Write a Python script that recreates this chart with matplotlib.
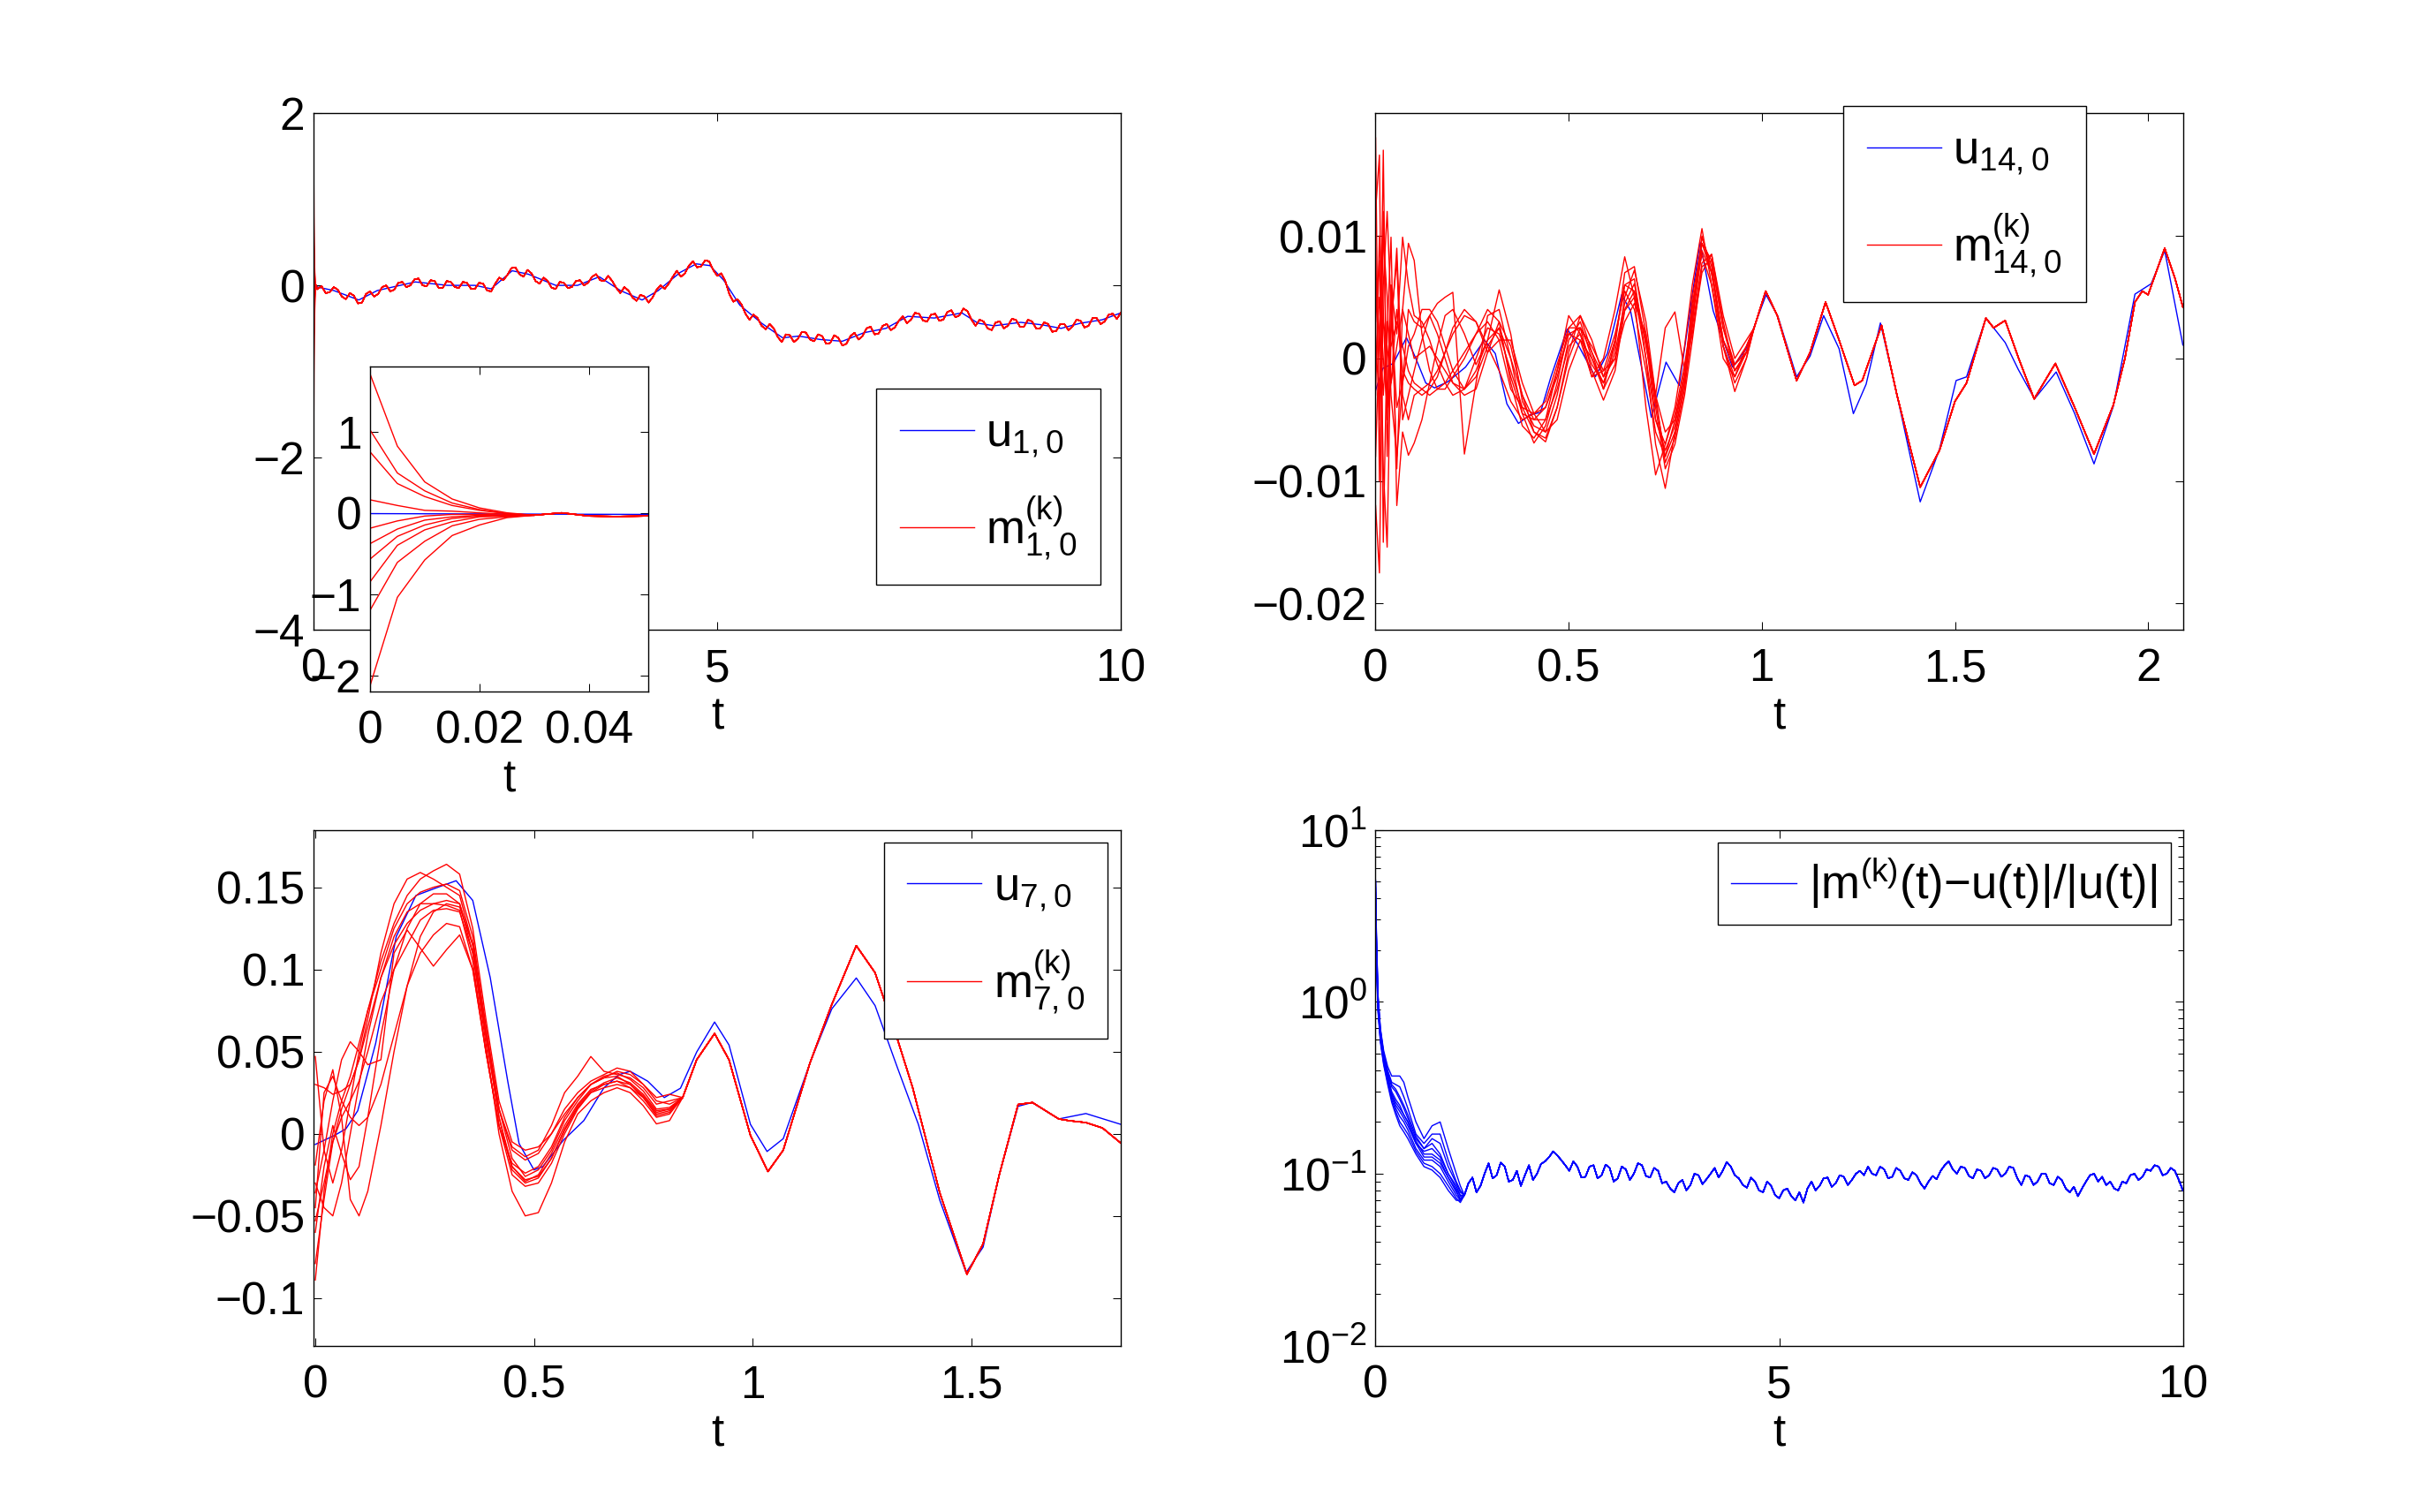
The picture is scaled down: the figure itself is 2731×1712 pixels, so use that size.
import numpy as np
import matplotlib
matplotlib.use('Agg')
import matplotlib.pyplot as plt

plt.rcParams['font.family'] = ['Liberation Sans', 'DejaVu Sans']
plt.rcParams['mathtext.default'] = 'regular'
plt.rcParams['axes.unicode_minus'] = True

# ---------------- data: u_{1,0} / m_{1,0} (top left + inset) ----------------
t_u1 = [0, 0.25, 0.56, 0.79, 1.26, 1.66, 2.0, 2.2, 2.46, 2.66, 3.0, 3.27, 3.54, 3.8,
        4.07, 4.27, 4.54, 4.74, 4.91, 5.08, 5.28, 5.55, 5.81, 6.01, 6.28, 6.55, 6.82,
        7.09, 7.36, 7.69, 8.03, 8.23, 8.43, 8.76, 9.03, 9.26, 9.5, 9.77, 10.0]
u1 = [-0.01, -0.06, -0.17, -0.06, 0.04, 0.0, 0.0, -0.04, 0.17, 0.13, 0.0, 0.0, 0.1, -0.06,
      -0.17, -0.06, 0.15, 0.25, 0.23, 0.06, -0.23, -0.44, -0.61, -0.59, -0.63, -0.65, -0.55,
      -0.5, -0.36, -0.38, -0.32, -0.44, -0.47, -0.43, -0.46, -0.5, -0.44, -0.4, -0.32]

# initial transients of the 10 ensemble members
t_m1_trans = [0, 0.005, 0.01, 0.015, 0.02, 0.025]
m1_trans = [[1.71, 0.82, 0.38, 0.17, 0.06, 0.0],
            [1.02, 0.49, 0.27, 0.12, 0.04, -0.01],
            [0.75, 0.36, 0.2, 0.09, 0.03, -0.01],
            [0.16, 0.09, 0.03, 0.02, 0.0, -0.02],
            [-0.19, -0.1, -0.04, -0.02, -0.02, -0.03],
            [-0.38, -0.2, -0.09, -0.05, -0.03, -0.03],
            [-0.57, -0.29, -0.15, -0.07, -0.04, -0.04],
            [-0.85, -0.4, -0.21, -0.11, -0.05, -0.04],
            [-1.2, -0.61, -0.35, -0.16, -0.08, -0.05],
            [-2.13, -1.04, -0.58, -0.28, -0.15, -0.06]]
t_m1_conv = [0.03, 0.035, 0.04, 0.045, 0.05]
m1_conv = [-0.03, 0.0, -0.04, -0.045, -0.04]
t_m1_tail = np.linspace(0.1, 10.0, 199)
m1_tail = [-0.01, -0.09, -0.08, -0.02, -0.05, -0.13, -0.16, -0.09, -0.12, -0.21,
           -0.2, -0.1, -0.07, -0.13, -0.1, -0.02, 0.0, -0.07, -0.05, 0.03,
           0.04, -0.02, 0.0, 0.07, 0.08, 0.0, -0.01, 0.06, 0.05, -0.03,
           -0.03, 0.05, 0.04, -0.02, -0.03, 0.04, 0.03, -0.04, -0.04, 0.03,
           0.02, -0.06, -0.07, 0.02, 0.09, 0.06, 0.12, 0.2, 0.21, 0.13,
           0.1, 0.18, 0.14, 0.05, 0.02, 0.09, 0.05, -0.03, -0.04, 0.04,
           0.03, -0.03, -0.02, 0.05, 0.06, 0.0, 0.03, 0.1, 0.13, 0.06,
           0.05, 0.11, 0.05, -0.03, -0.09, -0.02, -0.06, -0.14, -0.18, -0.11,
           -0.13, -0.2, -0.14, -0.05, 0.0, -0.04, 0.02, 0.1, 0.17, 0.1,
           0.14, 0.23, 0.28, 0.21, 0.22, 0.29, 0.28, 0.18, 0.11, 0.14,
           0.05, -0.1, -0.19, -0.16, -0.22, -0.33, -0.4, -0.34, -0.38, -0.47,
           -0.51, -0.45, -0.5, -0.6, -0.66, -0.57, -0.58, -0.66, -0.62, -0.54,
           -0.55, -0.63, -0.65, -0.57, -0.59, -0.68, -0.67, -0.58, -0.61, -0.7,
           -0.68, -0.59, -0.55, -0.63, -0.59, -0.5, -0.48, -0.57, -0.56, -0.47,
           -0.45, -0.52, -0.49, -0.41, -0.36, -0.44, -0.4, -0.32, -0.33, -0.41,
           -0.42, -0.34, -0.33, -0.41, -0.4, -0.31, -0.29, -0.37, -0.35, -0.27,
           -0.3, -0.4, -0.47, -0.4, -0.42, -0.5, -0.52, -0.43, -0.42, -0.5,
           -0.47, -0.39, -0.4, -0.48, -0.48, -0.4, -0.42, -0.5, -0.5, -0.43,
           -0.45, -0.54, -0.53, -0.45, -0.45, -0.52, -0.48, -0.4, -0.41, -0.49,
           -0.47, -0.38, -0.38, -0.45, -0.42, -0.34, -0.33, -0.39, -0.32]

# ---------------- data: u_{14,0} / m_{14,0} (top right), units 1e-3 ----------------
t_u14 = [0, 0.019, 0.046, 0.08, 0.103, 0.13, 0.153, 0.187, 0.233, 0.282, 0.31, 0.34, 0.37,
         0.4, 0.427, 0.454, 0.496, 0.523, 0.569, 0.6, 0.637, 0.66, 0.714, 0.752, 0.786, 0.84,
         0.874, 0.924, 0.958, 1.011, 1.042, 1.09, 1.125, 1.16, 1.2, 1.237, 1.27, 1.307, 1.35,
         1.41, 1.46, 1.503, 1.53, 1.58, 1.63, 1.664, 1.706, 1.762, 1.81, 1.86, 1.91, 1.966,
         2.008, 2.043, 2.09]
u14 = [-2.6, -0.8, -0.4, 1.7, 0.1, -2.0, -2.4, -1.9, -0.7, 1.5, 0.4, -3.7, -5.3,
       -4.6, -4.4, -1.5, 2.4, 1.2, -1.5, 0.4, 5.2, 3.9, -4.8, -0.3, -2.2, 9.5,
       3.9, -0.7, 0.7, 5.2, 3.4, -1.5, 0.2, 3.5, 0.8, -4.5, -2.1, 2.9, -3.0,
       -11.7, -7.4, -1.8, -1.5, 3.3, 1.3, -0.9, -3.3, -1.1, -4.5, -8.6, -3.9, 5.25,
       6.1, 8.8, 1.1]

t_m14_early = [0, 0.01, 0.02, 0.03, 0.04, 0.055, 0.07, 0.085,
               0.1, 0.12, 0.14, 0.16, 0.18, 0.2, 0.23, 0.26, 0.29, 0.32, 0.35, 0.38, 0.41,
               0.44, 0.47, 0.5, 0.53, 0.56, 0.59, 0.62, 0.645, 0.67, 0.7, 0.725, 0.75,
               0.775, 0.8, 0.82, 0.845, 0.87, 0.9, 0.93, 0.96]
m14_early = [
    [18, -10, 12, -4, 6, -9, 4, 9.4,
     8, 2, -1, -2.5, -2.5, -1.5, 0, 2, 4, 3, -2, -5.5, -6.5, -5, -1, 3.5, 2, -1.5, 0, 4,
     8.3, 5, -4, -9.5, -7, -4, 1, 6, 10.6, 6, 0, -1.5, 1],
    [12, 16.6, -15, 2, 9.9, -12, -6, -7.9,
     -6.9, -5, -2, 1, 3.5, 4, 2, -0.5, 1.5, 5.6, 2, -3.5, -5.5, -6, -3, 1.5, 3, 0, -2.5, 1.5,
     6, 6.5, 0, -7, -10.6, -6, -2, 4, 9.9, 7.5, 1.5, -1, 0.5],
    [9, -5, 17, -8, 3, 8, -5, -3,
     -1, 1.5, 3.5, 4.5, 5, 5.4, -7.8, -2, 3.5, 4, 0, -4.5, -6.9, -5.5, -2, 2.5, 2.5, -1, -3.4, -1,
     3.9, 5, 1.5, -5, -7.5, -5.5, -1.5, 5, 9.4, 8, 2.5, -0.5, 1],
    [3, 8, -9, -15.4, 2, 9, -3, -5,
     -3, -2.5, -2, -1, 0.5, 2, 3.5, 3, 1, -1, -3.5, -5, -4.5, -3.5, -0.5, 2.5, 3.5, 1.5, -1.5, 0,
     3, 4.5, 2, -3, -6, -5, -1, 3, 8.8, 7, 1, -2, 0],
    [-3, 10, 4, -5, 6, 2, 9.9, 6,
     3.5, 3, 1.5, -0.5, -2, -3, -2.5, 0, 2.5, 2, -1, -4, -6, -6.5, -4, 0.5, 3.5, 0.5, -2.5, -0.5,
     5, 7.2, 3, -3, -8.5, -6.5, -2.5, 2.5, 7.8, 8.5, 3, -1, 0.5],
    [-8, 2, 10, 5, -3, -8, -2, 4,
     3, 2.5, 3.5, 2, 0, -2, -3, -2.5, 0.5, 3, 1, -3, -5, -5, -2.5, 1, 2, -0.5, -2, 0.5,
     4.5, 6.1, 1, -3, 2.5, 3.8, -1, 2, 7, 8.5, 3.5, 0, 1.5],
    [-12, -17.5, 6, 12, 4, -4, -2, 1,
     2, 4, 4, 3, 1, -1, -2.5, -1, 1.5, 2.5, -1.5, -4.5, -5, -4, -1.5, 2, 1.5, -1.5, -1, 2,
     5.5, 4, -1, -6, -8, -5, -1.5, 4.5, 8.5, 6, 1, -1.5, 0.5],
    [6, 2, -3, 3, 1, 3, 1, -1,
     -2, -2.5, -3, -2.5, -2, -1, 0.5, 2, 3, 1.5, -2.5, -4, -4.5, -4, -1, 2, 2.5, 0.5, -1.5, 1.5,
     6, 5.5, 0, -5, -7, -4.5, -0.5, 3.5, 9.4, 7, 1.5, -0.5, 0.5],
    [-1, 5, 0, -4, -2, 1, 4, 2,
     0, 0.5, 1, 0, -1, -2, -2.5, -1.5, 1, 2.5, 0, -3, -6, -6.8, -4, 0, 2.5, 1, -1, 0,
     4, 5.5, 1.5, -4, -9, -7, -3, 1.5, 7.5, 8, 2.5, -1, 0.5],
    [1, -3, 3, 1, -2, 4, -1, -2,
     -2.5, -3, -2.5, -1.5, 0.5, 2.5, 4, 3, 0.5, 1.5, 1.5, -2, -4.5, -6, -5, -1, 1.5, 0, -2, 1,
     7, 7.5, 2, -3.5, -8, -6, -2, 3, 10, 7, 1, -2.7, 0],
]
t_m14_tail = [0.98, 1.01, 1.04, 1.09, 1.125, 1.165, 1.2, 1.24, 1.26, 1.31, 1.35, 1.41, 1.46,
              1.5, 1.53, 1.58, 1.6, 1.63, 1.665, 1.705, 1.76, 1.81, 1.86, 1.91, 1.94, 1.966,
              1.985, 2.0, 2.043, 2.07, 2.09]
m14_tail = [2.5, 5.5, 3.5, -1.8, 0.5, 4.6, 1.5, -2.2, -1.8, 2.7, -3.0, -10.5, -7.5,
            -3.5, -2.0, 3.3, 2.5, 3.1, 0.0, -3.3, -0.4, -4.0, -7.8, -3.8, 0.0, 4.6,
            5.5, 5.2, 9.0, 6.5, 4.2]

# ---------------- data: u_{7,0} / m_{7,0} (bottom left) ----------------
t_u7 = [0, 0.044, 0.07, 0.097, 0.138, 0.185, 0.23, 0.28, 0.322, 0.36, 0.4, 0.44, 0.466, 0.5,
        0.52, 0.567, 0.614, 0.66, 0.695, 0.72, 0.76, 0.798, 0.835, 0.872, 0.913, 0.946, 0.995,
        1.033, 1.07, 1.131, 1.181, 1.237, 1.28, 1.33, 1.379, 1.428, 1.488, 1.527, 1.564, 1.607,
        1.639, 1.7, 1.762, 1.842]
u7 = [-0.0065, -0.001, 0.003, 0.014, 0.055, 0.12, 0.145, 0.15, 0.154, 0.142, 0.095, 0.032,
      -0.006, -0.022, -0.02, -0.004, 0.008, 0.028, 0.036, 0.038, 0.032, 0.022, 0.0277, 0.0497,
      0.068, 0.054, 0.0057, -0.0108, -0.003, 0.043, 0.076, 0.0948, 0.078, 0.041, 0.0057,
      -0.0405, -0.0845, -0.069, -0.025, 0.0167, 0.019, 0.009, 0.0123, 0.0057]

t_m7_early = [0, 0.02, 0.04, 0.06, 0.08, 0.1, 0.12, 0.15, 0.18, 0.21, 0.24, 0.27, 0.3, 0.33,
              0.36, 0.39, 0.42, 0.45, 0.48, 0.51, 0.54, 0.57, 0.6, 0.63, 0.66, 0.69, 0.72,
              0.75, 0.78, 0.81]
m7_early = [
    [0.047, -0.01, -0.03, -0.01, 0.02, 0.05, 0.075, 0.105, 0.128, 0.145, 0.155, 0.16, 0.164, 0.158, 0.125,
     0.07, 0.02, -0.005, -0.01, -0.008, 0.0, 0.012, 0.022, 0.03, 0.034, 0.038, 0.036, 0.03, 0.02, 0.018],
    [0.030, 0.028, 0.024, 0.026, 0.03, 0.045, 0.07, 0.11, 0.14, 0.155, 0.159, 0.155, 0.15, 0.145, 0.115,
     0.06, 0.015, -0.01, -0.016, -0.012, 0.0, 0.015, 0.025, 0.032, 0.036, 0.04, 0.038, 0.03, 0.022, 0.024],
    [-0.019, 0.02, 0.039, 0.01, -0.04, -0.05, -0.035, 0.005, 0.05, 0.09, 0.12, 0.135, 0.14, 0.138, 0.115,
     0.065, 0.015, -0.015, -0.026, -0.022, -0.01, 0.008, 0.02, 0.03, 0.035, 0.037, 0.033, 0.026, 0.015, 0.016],
    [-0.036, -0.01, 0.02, 0.045, 0.056, 0.05, 0.042, 0.045, 0.11, 0.124, 0.113, 0.102, 0.112, 0.121, 0.1,
     0.05, 0.005, -0.025, -0.032, -0.03, -0.018, 0.0, 0.015, 0.025, 0.028, 0.03, 0.028, 0.022, 0.012, 0.014],
    [-0.053, -0.03, -0.005, 0.01, 0.02, 0.032, 0.05, 0.08, 0.1, 0.115, 0.13, 0.136, 0.137, 0.135, 0.11,
     0.06, 0.01, -0.02, -0.029, -0.025, -0.012, 0.005, 0.018, 0.027, 0.03, 0.032, 0.028, 0.02, 0.01, 0.012],
    [-0.06, -0.02, 0.005, -0.012, -0.028, -0.02, 0.01, 0.06, 0.1, 0.125, 0.14, 0.146, 0.146, 0.14, 0.11,
     0.055, 0.0, -0.035, -0.05, -0.048, -0.03, -0.005, 0.012, 0.02, 0.025, 0.028, 0.025, 0.017, 0.006, 0.008],
    [-0.079, -0.04, -0.005, 0.015, 0.03, 0.045, 0.065, 0.095, 0.12, 0.135, 0.14, 0.14, 0.139, 0.136, 0.105,
     0.05, 0.005, -0.018, -0.024, -0.02, -0.008, 0.01, 0.022, 0.03, 0.034, 0.035, 0.03, 0.022, 0.011, 0.013],
    [-0.089, -0.035, 0.0, 0.02, 0.035, 0.055, 0.075, 0.1, 0.125, 0.14, 0.147, 0.15, 0.152, 0.148, 0.12,
     0.065, 0.015, -0.008, -0.014, -0.01, 0.005, 0.025, 0.035, 0.047, 0.038, 0.036, 0.034, 0.028, 0.018, 0.02],
    [-0.045, 0.025, 0.035, 0.02, 0.01, 0.005, 0.01, 0.03, 0.06, 0.09, 0.11, 0.121, 0.128, 0.126, 0.1,
     0.05, 0.005, -0.02, -0.028, -0.026, -0.015, 0.002, 0.016, 0.025, 0.03, 0.032, 0.03, 0.023, 0.013, 0.015],
    [-0.03, -0.045, -0.05, -0.03, 0.0, 0.03, 0.06, 0.095, 0.115, 0.128, 0.136, 0.14, 0.142, 0.14, 0.115,
     0.06, 0.01, -0.022, -0.03, -0.027, -0.015, 0.003, 0.017, 0.026, 0.031, 0.034, 0.031, 0.024, 0.014, 0.015],
]
t_m7_tail = [0.84, 0.872, 0.913, 0.946, 0.995, 1.035, 1.07, 1.131, 1.18, 1.237, 1.28, 1.33,
             1.366, 1.379, 1.428, 1.49, 1.527, 1.564, 1.607, 1.64, 1.7, 1.725, 1.762, 1.8, 1.842]
m7_tail = [0.022, 0.045, 0.061, 0.045, -0.001, -0.023, -0.01, 0.043, 0.078, 0.1145, 0.098, 0.0585,
           0.028, 0.0145, -0.036, -0.0855, -0.067, -0.025, 0.0178, 0.019, 0.009, 0.0079, 0.0068,
           0.0035, -0.0057]

# ---------------- data: relative error (bottom right) ----------------
t_err_early = [0, 0.01, 0.03, 0.06, 0.1, 0.15, 0.2, 0.25, 0.3, 0.35, 0.4, 0.5, 0.6, 0.7, 0.8,
               0.9, 1.0, 1.05]
err_early = [
    [5.1, 2.6, 1.1, 0.7, 0.52, 0.42, 0.37, 0.37, 0.37, 0.34, 0.28, 0.2, 0.16, 0.19, 0.2, 0.14, 0.1, 0.085],
    [5.0, 2.4, 1.05, 0.68, 0.5, 0.4, 0.34, 0.33, 0.32, 0.28, 0.24, 0.17, 0.15, 0.17, 0.17, 0.12, 0.09, 0.08],
    [4.6, 2.3, 1.0, 0.66, 0.48, 0.38, 0.32, 0.3, 0.27, 0.24, 0.21, 0.16, 0.14, 0.15, 0.13, 0.1, 0.085, 0.075],
    [4.0, 2.2, 0.98, 0.64, 0.47, 0.37, 0.3, 0.27, 0.25, 0.22, 0.2, 0.155, 0.13, 0.13, 0.12, 0.095, 0.08, 0.07],
    [3.5, 2.0, 0.95, 0.62, 0.46, 0.36, 0.29, 0.25, 0.23, 0.21, 0.19, 0.15, 0.125, 0.125, 0.115, 0.095, 0.078, 0.072],
    [3.0, 1.9, 0.93, 0.6, 0.45, 0.35, 0.28, 0.24, 0.215, 0.2, 0.18, 0.14, 0.12, 0.12, 0.11, 0.09, 0.075, 0.07],
    [2.6, 1.8, 0.9, 0.6, 0.44, 0.34, 0.27, 0.23, 0.2, 0.185, 0.17, 0.135, 0.115, 0.11, 0.1, 0.085, 0.072, 0.068],
    [2.2, 1.7, 0.88, 0.58, 0.43, 0.33, 0.26, 0.22, 0.19, 0.175, 0.16, 0.13, 0.11, 0.105, 0.095, 0.08, 0.07, 0.07],
    [5.0, 2.5, 1.08, 0.69, 0.5, 0.39, 0.33, 0.31, 0.28, 0.25, 0.22, 0.165, 0.14, 0.16, 0.15, 0.11, 0.088, 0.078],
    [4.3, 2.2, 0.97, 0.63, 0.46, 0.36, 0.29, 0.26, 0.24, 0.22, 0.2, 0.15, 0.135, 0.14, 0.125, 0.1, 0.082, 0.074],
]
t_err_tail = np.linspace(1.1, 10.0, 179)
err_tail = [0.075, 0.088, 0.095, 0.078, 0.085, 0.1, 0.115, 0.094, 0.098, 0.116,
            0.11, 0.09, 0.092, 0.104, 0.085, 0.098, 0.112, 0.092, 0.1, 0.114,
            0.118, 0.125, 0.135, 0.128, 0.12, 0.112, 0.104, 0.118, 0.11, 0.095,
            0.096, 0.11, 0.112, 0.094, 0.098, 0.113, 0.108, 0.09, 0.094, 0.11,
            0.106, 0.092, 0.1, 0.115, 0.112, 0.097, 0.095, 0.108, 0.104, 0.088,
            0.09, 0.082, 0.078, 0.088, 0.092, 0.08, 0.086, 0.1, 0.098, 0.087,
            0.093, 0.1, 0.108, 0.095, 0.104, 0.117, 0.11, 0.098, 0.094, 0.086,
            0.083, 0.095, 0.09, 0.08, 0.078, 0.09, 0.085, 0.075, 0.072, 0.08,
            0.082, 0.074, 0.07, 0.078, 0.068, 0.082, 0.09, 0.08, 0.085, 0.094,
            0.095, 0.084, 0.088, 0.098, 0.096, 0.086, 0.092, 0.1, 0.104, 0.098,
            0.11, 0.1, 0.098, 0.11, 0.106, 0.094, 0.096, 0.108, 0.104, 0.094,
            0.092, 0.102, 0.098, 0.088, 0.082, 0.09, 0.097, 0.093, 0.104, 0.112,
            0.118, 0.106, 0.1, 0.11, 0.108, 0.097, 0.094, 0.106, 0.104, 0.094,
            0.098, 0.108, 0.106, 0.096, 0.1, 0.11, 0.108, 0.094, 0.086, 0.098,
            0.096, 0.086, 0.09, 0.1, 0.1, 0.088, 0.086, 0.096, 0.092, 0.082,
            0.078, 0.084, 0.074, 0.082, 0.09, 0.098, 0.1, 0.09, 0.096, 0.086,
            0.09, 0.082, 0.08, 0.09, 0.088, 0.098, 0.1, 0.092, 0.096, 0.106,
            0.104, 0.112, 0.11, 0.098, 0.1, 0.108, 0.104, 0.092, 0.08]

FS = 37
LW = 1.0


def style(ax, fs=FS):
    ax.tick_params(which='both', direction='in', top=True, right=True, labelsize=fs)
    ax.tick_params(which='major', length=6.5, width=0.75)
    ax.tick_params(which='minor', length=4.5, width=0.75)
    ax.tick_params(axis='x', pad=15)
    ax.tick_params(axis='y', pad=7)
    for s in ax.spines.values():
        s.set_linewidth(1.0)
    ax.set_xlabel('t', fontsize=fs, labelpad=4)


def legend(ax, loc, anchor, fs=38, hl=1.6, spacing=0.75, bpad=0.5):
    lg = ax.legend(loc=loc, bbox_to_anchor=anchor, fontsize=fs, fancybox=False,
                   edgecolor='k', framealpha=1, handlelength=hl, handletextpad=0.25,
                   borderpad=bpad, labelspacing=spacing, borderaxespad=0)
    lg.get_frame().set_linewidth(1.0)
    return lg


fig = plt.figure(figsize=(27.31, 17.12), dpi=100)
ax1 = fig.add_axes([0.13, 0.5838, 0.3347, 0.3412])
ax2 = fig.add_axes([0.5703, 0.5838, 0.3347, 0.3412])
ax3 = fig.add_axes([0.13, 0.11, 0.3347, 0.3412])
ax4 = fig.add_axes([0.5703, 0.11, 0.3347, 0.3412])
ins = fig.add_axes([0.1534, 0.5426, 0.1153, 0.215])

# top left + inset
t1 = np.concatenate([t_m1_trans, t_m1_conv, t_m1_tail])
for a in (ax1, ins):
    a.plot(t_u1, u1, color='b', lw=LW, label=r'$u_{1,0}$')
    for k, tr in enumerate(m1_trans):
        y = np.concatenate([tr, m1_conv, m1_tail])
        a.plot(t1, y, color='r', lw=LW, label=r'$m^{(k)}_{1,0}$' if k == 0 else '_nolegend_')
ax1.set_xlim(0, 10)
ax1.set_ylim(-4, 2)
ax1.set_xticks([0, 5, 10])
ax1.set_yticks([-4, -2, 0, 2])
style(ax1)
legend(ax1, 'lower right', (0.975, 0.086))

ins.set_xlim(0, 0.0508)
ins.set_ylim(-2.2, 1.8)
ins.set_xticks([0, 0.02, 0.04])
ins.set_xticklabels(['0', '0.02', '0.04'])
ins.set_yticks([-2, -1, 0, 1])
ins.set_facecolor('white')
style(ins)

# top right
ax2.plot(t_u14, np.array(u14) * 1e-3, color='b', lw=LW, label=r'$u_{14,0}$')
t14 = np.concatenate([t_m14_early, t_m14_tail])
for k, early in enumerate(m14_early):
    y = np.concatenate([early, m14_tail]) * 1e-3
    ax2.plot(t14, y, color='r', lw=LW, label=r'$m^{(k)}_{14,0}$' if k == 0 else '_nolegend_')
ax2.set_xlim(0, 2.09)
ax2.set_ylim(-0.0221, 0.02)
ax2.set_xticks([0, 0.5, 1, 1.5, 2])
ax2.set_xticklabels(['0', '0.5', '1', '1.5', '2'])
ax2.set_yticks([-0.02, -0.01, 0, 0.01])
ax2.set_yticklabels(['\u22120.02', '\u22120.01', '0', '0.01'])
style(ax2)
legend(ax2, 'upper right', (0.88, 1.015))

# bottom left
ax3.plot(t_u7, u7, color='b', lw=LW, label=r'$u_{7,0}$')
t7 = np.concatenate([t_m7_early, t_m7_tail])
for k, early in enumerate(m7_early):
    y = np.concatenate([early, m7_tail])
    ax3.plot(t7, y, color='r', lw=LW, label=r'$m^{(k)}_{7,0}$' if k == 0 else '_nolegend_')
ax3.set_xlim(-0.004, 1.842)
ax3.set_ylim(-0.129, 0.185)
ax3.set_xticks([0, 0.5, 1, 1.5])
ax3.set_xticklabels(['0', '0.5', '1', '1.5'])
ax3.set_yticks([-0.1, -0.05, 0, 0.05, 0.1, 0.15])
ax3.set_yticklabels(['\u22120.1', '\u22120.05', '0', '0.05', '0.1', '0.15'])
style(ax3)
legend(ax3, 'upper right', (0.984, 0.976))

# bottom right
te = np.concatenate([t_err_early, t_err_tail])
for k, early in enumerate(err_early):
    y = np.concatenate([early, err_tail])
    ax4.plot(te, y, color='b', lw=LW,
             label=r'$|m^{(k)}(t){-}u(t)|/|u(t)|$' if k == 0 else '_nolegend_')
ax4.set_yscale('log')
ax4.set_xlim(0, 10)
ax4.set_ylim(1e-2, 1e1)
ax4.set_xticks([0, 5, 10])
style(ax4)
legend(ax4, 'upper right', (0.985, 0.976), hl=1.4, bpad=0.3)

fig.savefig('out.png', dpi=100, facecolor='white')
